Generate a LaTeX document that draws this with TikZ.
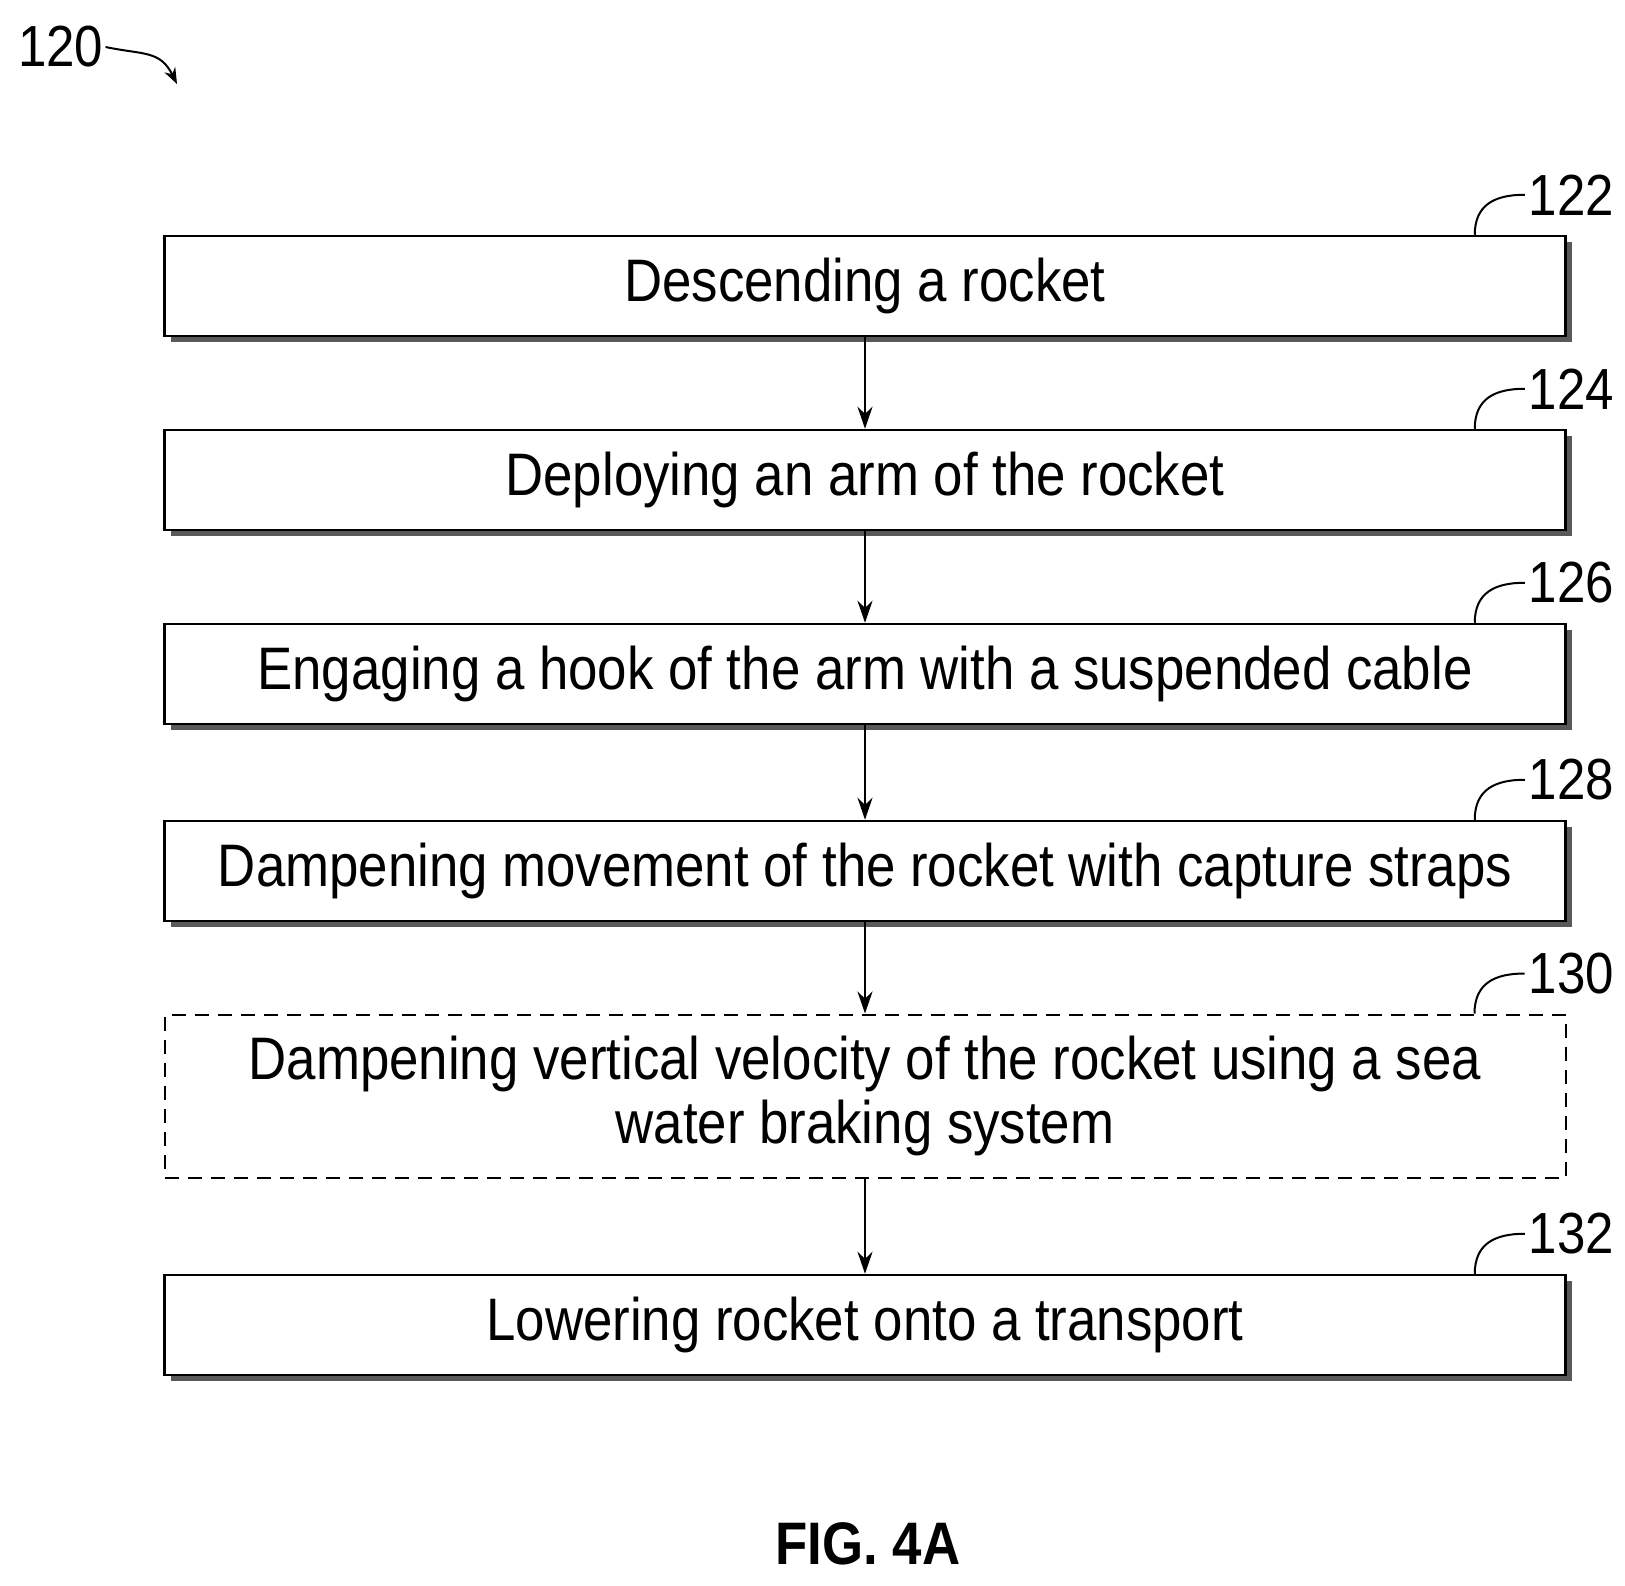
\documentclass[tikz,border=0pt]{standalone}
\usepackage{fontspec}
\setmainfont{Liberation Sans}[FakeStretch=0.88]
\usetikzlibrary{positioning, arrows.meta, shadows}
\tikzset{
  stage/.style={draw, line width=2.5pt, fill=white, minimum width=1401pt, minimum height=100pt,
    align=center, font=\fontsize{60}{64}\selectfont,
    drop shadow={shadow xshift=6pt, shadow yshift=-6pt, fill=black!65, opacity=1}},
  opt/.style={draw, line width=2pt, dash pattern=on 14pt off 9pt, fill=white, minimum width=1401pt,
    minimum height=163pt, align=center, font=\fontsize{60}{64}\selectfont},
  flow/.style={-{Stealth[length=22pt,width=15pt]}, line width=2.5pt},
  lead/.style={line width=2pt},
  refnum/.style={font=\fontsize{58}{60}\selectfont, anchor=west, inner sep=0pt}
}
\begin{document}
\begin{tikzpicture}[x=1pt, y=-1pt]
        \useasboundingbox (0,0) rectangle (1625,1585);
        \node (s122) [stage] at (865,286) {Descending a rocket};
        \node (s124) [stage] at (865,480) {Deploying an arm of the rocket};
        \node (s126) [stage] at (865,674) {Engaging a hook of the arm with a suspended cable};
        \node (s128) [stage] at (865,871) {Dampening movement of the rocket with capture straps};
        \node (s130) [opt] at (865,1096) {Dampening vertical velocity of the rocket using a sea\\water braking system};
        \node (s132) [stage] at (865,1325) {Lowering rocket onto a transport};
        % arrows
        \foreach \a/\b in {s122/s124, s124/s126, s126/s128, s128/s130, s130/s132}
            \draw[flow] (\a.south) -- (\b.north);
        % reference numerals
        \foreach \s in {122,124,126,128,130,132} {
            \coordinate (r\s) at ([xshift=-92pt]s\s.north east);
            \draw[lead] (r\s) .. controls ([yshift=30pt]r\s) and ([xshift=20pt,yshift=40pt]r\s) .. ([xshift=50pt,yshift=40pt]r\s) coordinate (e\s);
            \node[refnum] at ([xshift=4pt]e\s) {\s};
        }
        % figure number
        \node (n120) [refnum] at (18,47) {120};
        \coordinate (a120) at (177,84);
        \draw[-{Stealth[length=16pt,width=12pt]}, line width=2pt] ([xshift=2pt]n120.east) .. controls ([xshift=40pt,yshift=-8pt]n120.east) and (160,50) .. (a120);
        \node (fig) at (868,1544) {\fontsize{60}{64}\selectfont\bfseries FIG. 4A};
\end{tikzpicture}
\end{document}
